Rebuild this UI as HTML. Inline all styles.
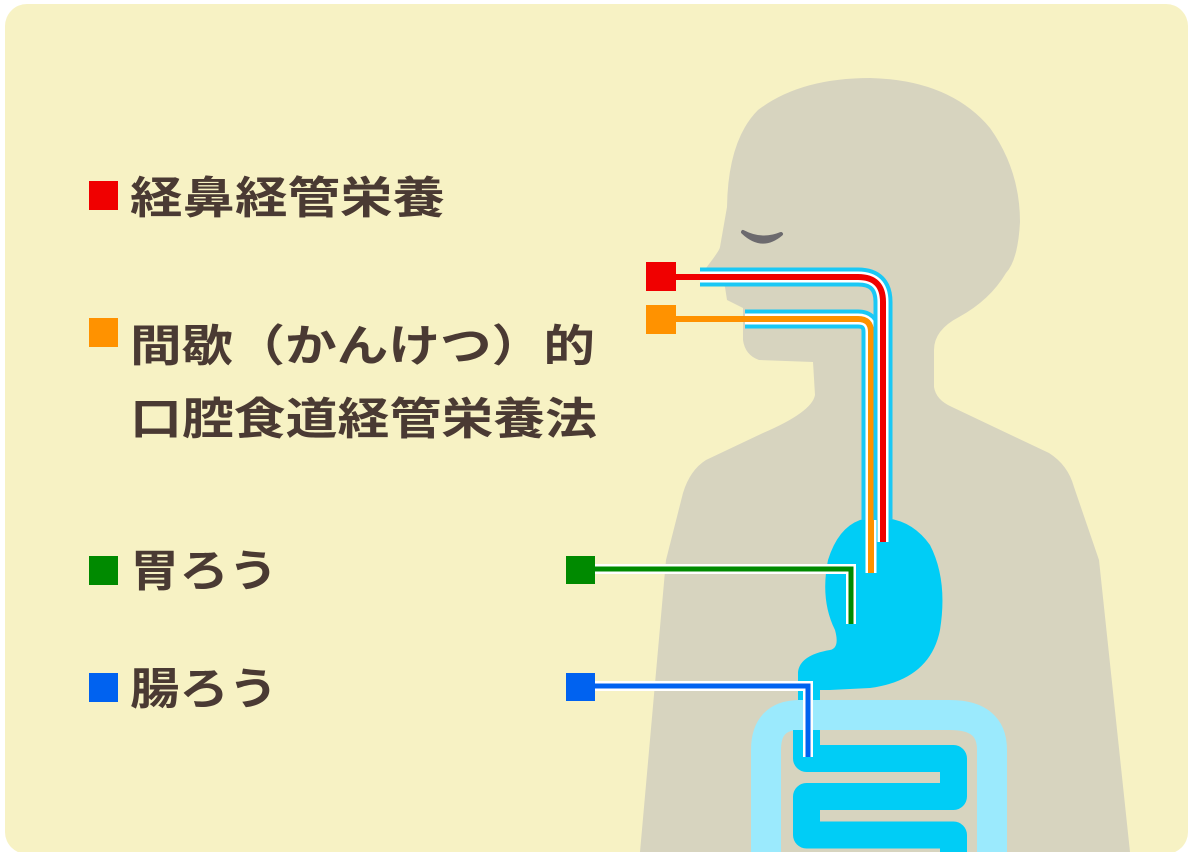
<!DOCTYPE html>
<html><head><meta charset="utf-8"><style>
html,body{margin:0;padding:0;background:#fff;}
svg{display:block}
text{font-family:"Liberation Sans","Noto Sans CJK JP",sans-serif;font-weight:bold;fill:#4a3a33;font-size:44px}
</style></head><body>
<svg width="1192" height="852" viewBox="0 0 1192 852" xmlns="http://www.w3.org/2000/svg">
<rect x="5" y="4" width="1183" height="850" rx="22" fill="#f7f2c4"/>
<path fill="#d7d4bf" d="M640,852 L666,560 L683,493 Q690,470 706,460 L763,433 Q812,412 815,395 L813,362 L759,360 Q745,355 743,340 L743,333 L743,308 L727,300 L725,287 L706,268 Q720,250 720,247 L727,207 Q728,140 758,110 Q800,78 870,78 Q950,80 990,128 Q1020,170 1020,222 Q1018,260 1006,273 Q990,300 959,317 Q934,330 934,350 L934,387 Q936,400 952,407 L1049,453 Q1068,465 1074,487 L1099,560 L1130,852 Z"/>
<path d="M743,232 Q762,250 781,234 Q762,242 743,232 Z" fill="#6c6a6e" stroke="#6c6a6e" stroke-width="4" stroke-linejoin="round"/>
<!-- stomach -->
<path fill="#00cdf6" d="M860,520 Q905,510 930,545 Q948,580 940,630 Q930,680 870,688 L830,690 L820,690 L820,700 L798,700 L798,672 Q800,655 830,650 Q840,648 835,630 Q820,600 828,560 Q838,528 860,520 Z"/>
<!-- large intestine -->
<path d="M766,852 V750 Q766,715 800,715 H950 Q992,715 992,750 V852" fill="none" stroke="#9beafd" stroke-width="30"/>
<!-- small intestine -->
<path d="M806.5,730 V758.5 H953.5 V796.5 H806.5 V835 H953.5 V870" fill="none" stroke="#00cdf6" stroke-width="27" stroke-linejoin="round"/>
<!-- orange tube -->
<path d="M745,319 H858 Q871,319 871,332 V520" fill="none" stroke="#1ac8f5" stroke-width="19"/>
<path d="M745,319 H858 Q871,319 871,332 V573" fill="none" stroke="#fff" stroke-width="11"/>
<path d="M672,319 H858 Q871,319 871,332 V573" fill="none" stroke="#ff9200" stroke-width="6"/>
<!-- red tube -->
<path d="M700,277 H858 Q883,277 883,302 V520" fill="none" stroke="#1ac8f5" stroke-width="19"/>
<path d="M700,277 H858 Q883,277 883,302 V542" fill="none" stroke="#fff" stroke-width="11"/>
<path d="M672,277 H858 Q883,277 883,302 V542" fill="none" stroke="#f00000" stroke-width="6"/>
<!-- green -->
<path d="M595,569 H851 V624" fill="none" stroke="#fff" stroke-width="10"/>
<path d="M595,569 H851 V624" fill="none" stroke="#008a00" stroke-width="5"/>
<!-- blue -->
<path d="M595,686 H808 V757" fill="none" stroke="#fff" stroke-width="10"/>
<path d="M595,686 H808 V757" fill="none" stroke="#0062f0" stroke-width="5"/>
<rect x="646" y="262" width="30" height="29" fill="#f00000"/>
<rect x="646" y="305" width="30" height="29" fill="#ff9200"/>
<rect x="566" y="556" width="29" height="28" fill="#008a00"/>
<rect x="566" y="673" width="29" height="28" fill="#0062f0"/>
<!-- legend -->
<rect x="89" y="181" width="29" height="29" fill="#f00000"/>
<rect x="89" y="318" width="29" height="29" fill="#ff9200"/>
<rect x="89" y="556" width="29" height="29" fill="#008a00"/>
<rect x="89" y="673" width="29" height="29" fill="#0062f0"/>
<text x="130" y="213" textLength="315" lengthAdjust="spacingAndGlyphs">経鼻経管栄養</text>
<text x="130" y="361" textLength="465" lengthAdjust="spacingAndGlyphs">間歇（かんけつ）的</text>
<text x="130" y="434" textLength="467" lengthAdjust="spacingAndGlyphs">口腔食道経管栄養法</text>
<text x="130" y="586" textLength="148" lengthAdjust="spacingAndGlyphs">胃ろう</text>
<text x="130" y="704" textLength="148" lengthAdjust="spacingAndGlyphs">腸ろう</text>
</svg>
</body></html>
